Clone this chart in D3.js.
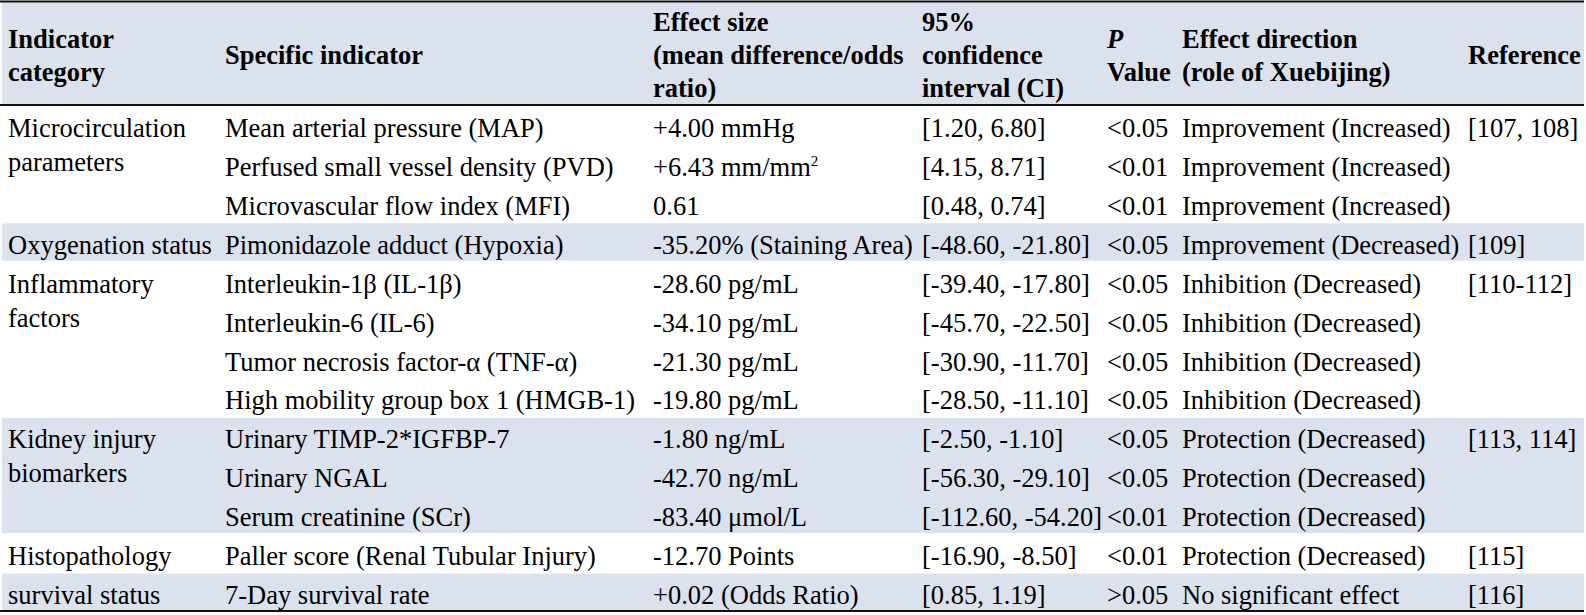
<!DOCTYPE html>
<html>
<head>
<meta charset="utf-8">
<script src="https://cdn.jsdelivr.net/npm/d3@7"></script>
<style>
  html, body { margin: 0; padding: 0; background: #ffffff; }
  svg { display: block; }
</style>
</head>
<body>
<svg id="chart" width="1586" height="615"></svg>
<script>
// ---------------- data ----------------
const headers = [
  ["Indicator", "category"],
  ["Specific indicator"],
  ["Effect size", "(mean difference/odds", "ratio)"],
  ["95%", "confidence", "interval (CI)"],
  ["P", "Value"],
  ["Effect direction", "(role of Xuebijing)"],
  ["Reference"]
];
const categories = [
  ["Microcirculation", "parameters"], null, null,
  ["Oxygenation status"],
  ["Inflammatory", "factors"], null, null, null,
  ["Kidney injury", "biomarkers"], null, null,
  ["Histopathology"],
  ["survival status"]
];
const indicators = [
  "Mean arterial pressure (MAP)",
  "Perfused small vessel density (PVD)",
  "Microvascular flow index (MFI)",
  "Pimonidazole adduct (Hypoxia)",
  "Interleukin-1\u03B2 (IL-1\u03B2)",
  "Interleukin-6 (IL-6)",
  "Tumor necrosis factor-\u03B1 (TNF-\u03B1)",
  "High mobility group box 1 (HMGB-1)",
  "Urinary TIMP-2*IGFBP-7",
  "Urinary NGAL",
  "Serum creatinine (SCr)",
  "Paller score (Renal Tubular Injury)",
  "7-Day survival rate"
];
const effects = [
  "+4.00 mmHg",
  "+6.43 mm/mm^2",
  "0.61",
  "-35.20% (Staining Area)",
  "-28.60 pg/mL",
  "-34.10 pg/mL",
  "-21.30 pg/mL",
  "-19.80 pg/mL",
  "-1.80 ng/mL",
  "-42.70 ng/mL",
  "-83.40 \u03BCmol/L",
  "-12.70 Points",
  "+0.02 (Odds Ratio)"
];
const confIntervals = [
  "[1.20, 6.80]", "[4.15, 8.71]", "[0.48, 0.74]",
  "[-48.60, -21.80]",
  "[-39.40, -17.80]", "[-45.70, -22.50]", "[-30.90, -11.70]", "[-28.50, -11.10]",
  "[-2.50, -1.10]", "[-56.30, -29.10]", "[-112.60, -54.20]",
  "[-16.90, -8.50]",
  "[0.85, 1.19]"
];
const pValues = [
  "<0.05", "<0.01", "<0.01", "<0.05",
  "<0.05", "<0.05", "<0.05", "<0.05",
  "<0.05", "<0.05", "<0.01", "<0.01", ">0.05"
];
const directions = [
  "Improvement (Increased)", "Improvement (Increased)", "Improvement (Increased)",
  "Improvement (Decreased)",
  "Inhibition (Decreased)", "Inhibition (Decreased)", "Inhibition (Decreased)", "Inhibition (Decreased)",
  "Protection (Decreased)", "Protection (Decreased)", "Protection (Decreased)",
  "Protection (Decreased)",
  "No significant effect"
];
const references = [
  "[107, 108]", "", "", "[109]",
  "[110-112]", "", "", "",
  "[113, 114]", "", "", "[115]", "[116]"
];
const shadedRows = [3, 8, 9, 10, 12];

// ---------------- layout ----------------
const FONT = "'Liberation Serif', 'Times New Roman', Times, 'DejaVu Serif', serif";
const svg = d3.select("#chart");
const tableLeft = 2, tableRight = 1584;
const headerTop = 2, headerBottom = 105, tableBottom = 611;
const FS = 26.5;
const colX = d3.scaleOrdinal().domain(d3.range(7)).range([8, 225, 653, 922, 1107, 1182, 1468]);
const rowY = d3.scaleBand().domain(d3.range(indicators.length)).range([headerBottom, tableBottom]).paddingInner(0);
const bw = rowY.bandwidth();

// header band
svg.append("rect").attr("x", tableLeft).attr("y", headerTop)
  .attr("width", tableRight - tableLeft).attr("height", headerBottom - headerTop)
  .attr("fill", "#dce2ed");

// row bands (contiguous shaded rows merge; a thin white gap only at a group start)
svg.selectAll("rect.band").data(shadedRows).join("rect").attr("class", "band")
  .attr("x", tableLeft)
  .attr("y", d => rowY(d) + (shadedRows.includes(d - 1) ? 0 : 1.5))
  .attr("width", tableRight - tableLeft)
  .attr("height", d => bw - (shadedRows.includes(d - 1) ? 0 : 1.5) + (shadedRows.includes(d + 1) ? 0.5 : 0))
  .attr("fill", "#dce2ed");

// rules
[headerTop - 0.5, headerBottom, tableBottom].forEach(y => {
  svg.append("line").attr("x1", 0).attr("x2", tableRight)
    .attr("y1", y).attr("y2", y).attr("stroke", "#111").attr("stroke-width", 2);
});

function txt(x, y) {
  return svg.append("text").attr("x", x).attr("y", y)
    .attr("font-family", FONT).attr("font-size", FS).attr("fill", "#000");
}

// header text
const headerMid = 64;
const headerPitch = 33;
headers.forEach((lines, c) => {
  const n = lines.length;
  lines.forEach((ln, k) => {
    const t = txt(colX(c), headerMid + (k - (n - 1) / 2) * headerPitch)
      .attr("font-weight", "bold").text(ln);
    if (c === 4 && k === 0) t.attr("font-style", "italic");
  });
});

// body text
const baseOff = 32;
const wrapPitch = 34;
function addText(col, row, str) {
  if (!str) return;
  const t = txt(colX(col), rowY(row) + baseOff);
  const parts = str.split("^");
  t.append("tspan").text(parts[0]);
  if (parts.length > 1) {
    t.append("tspan").attr("font-size", 15).attr("dy", -10).text(parts[1]);
  }
}
categories.forEach((cat, i) => {
  if (!cat) return;
  cat.forEach((ln, k) => {
    txt(colX(0), rowY(i) + baseOff + k * wrapPitch).text(ln);
  });
});
indicators.forEach((v, i) => addText(1, i, v));
effects.forEach((v, i) => addText(2, i, v));
confIntervals.forEach((v, i) => addText(3, i, v));
pValues.forEach((v, i) => addText(4, i, v));
directions.forEach((v, i) => addText(5, i, v));
references.forEach((v, i) => addText(6, i, v));
</script>
</body>
</html>
